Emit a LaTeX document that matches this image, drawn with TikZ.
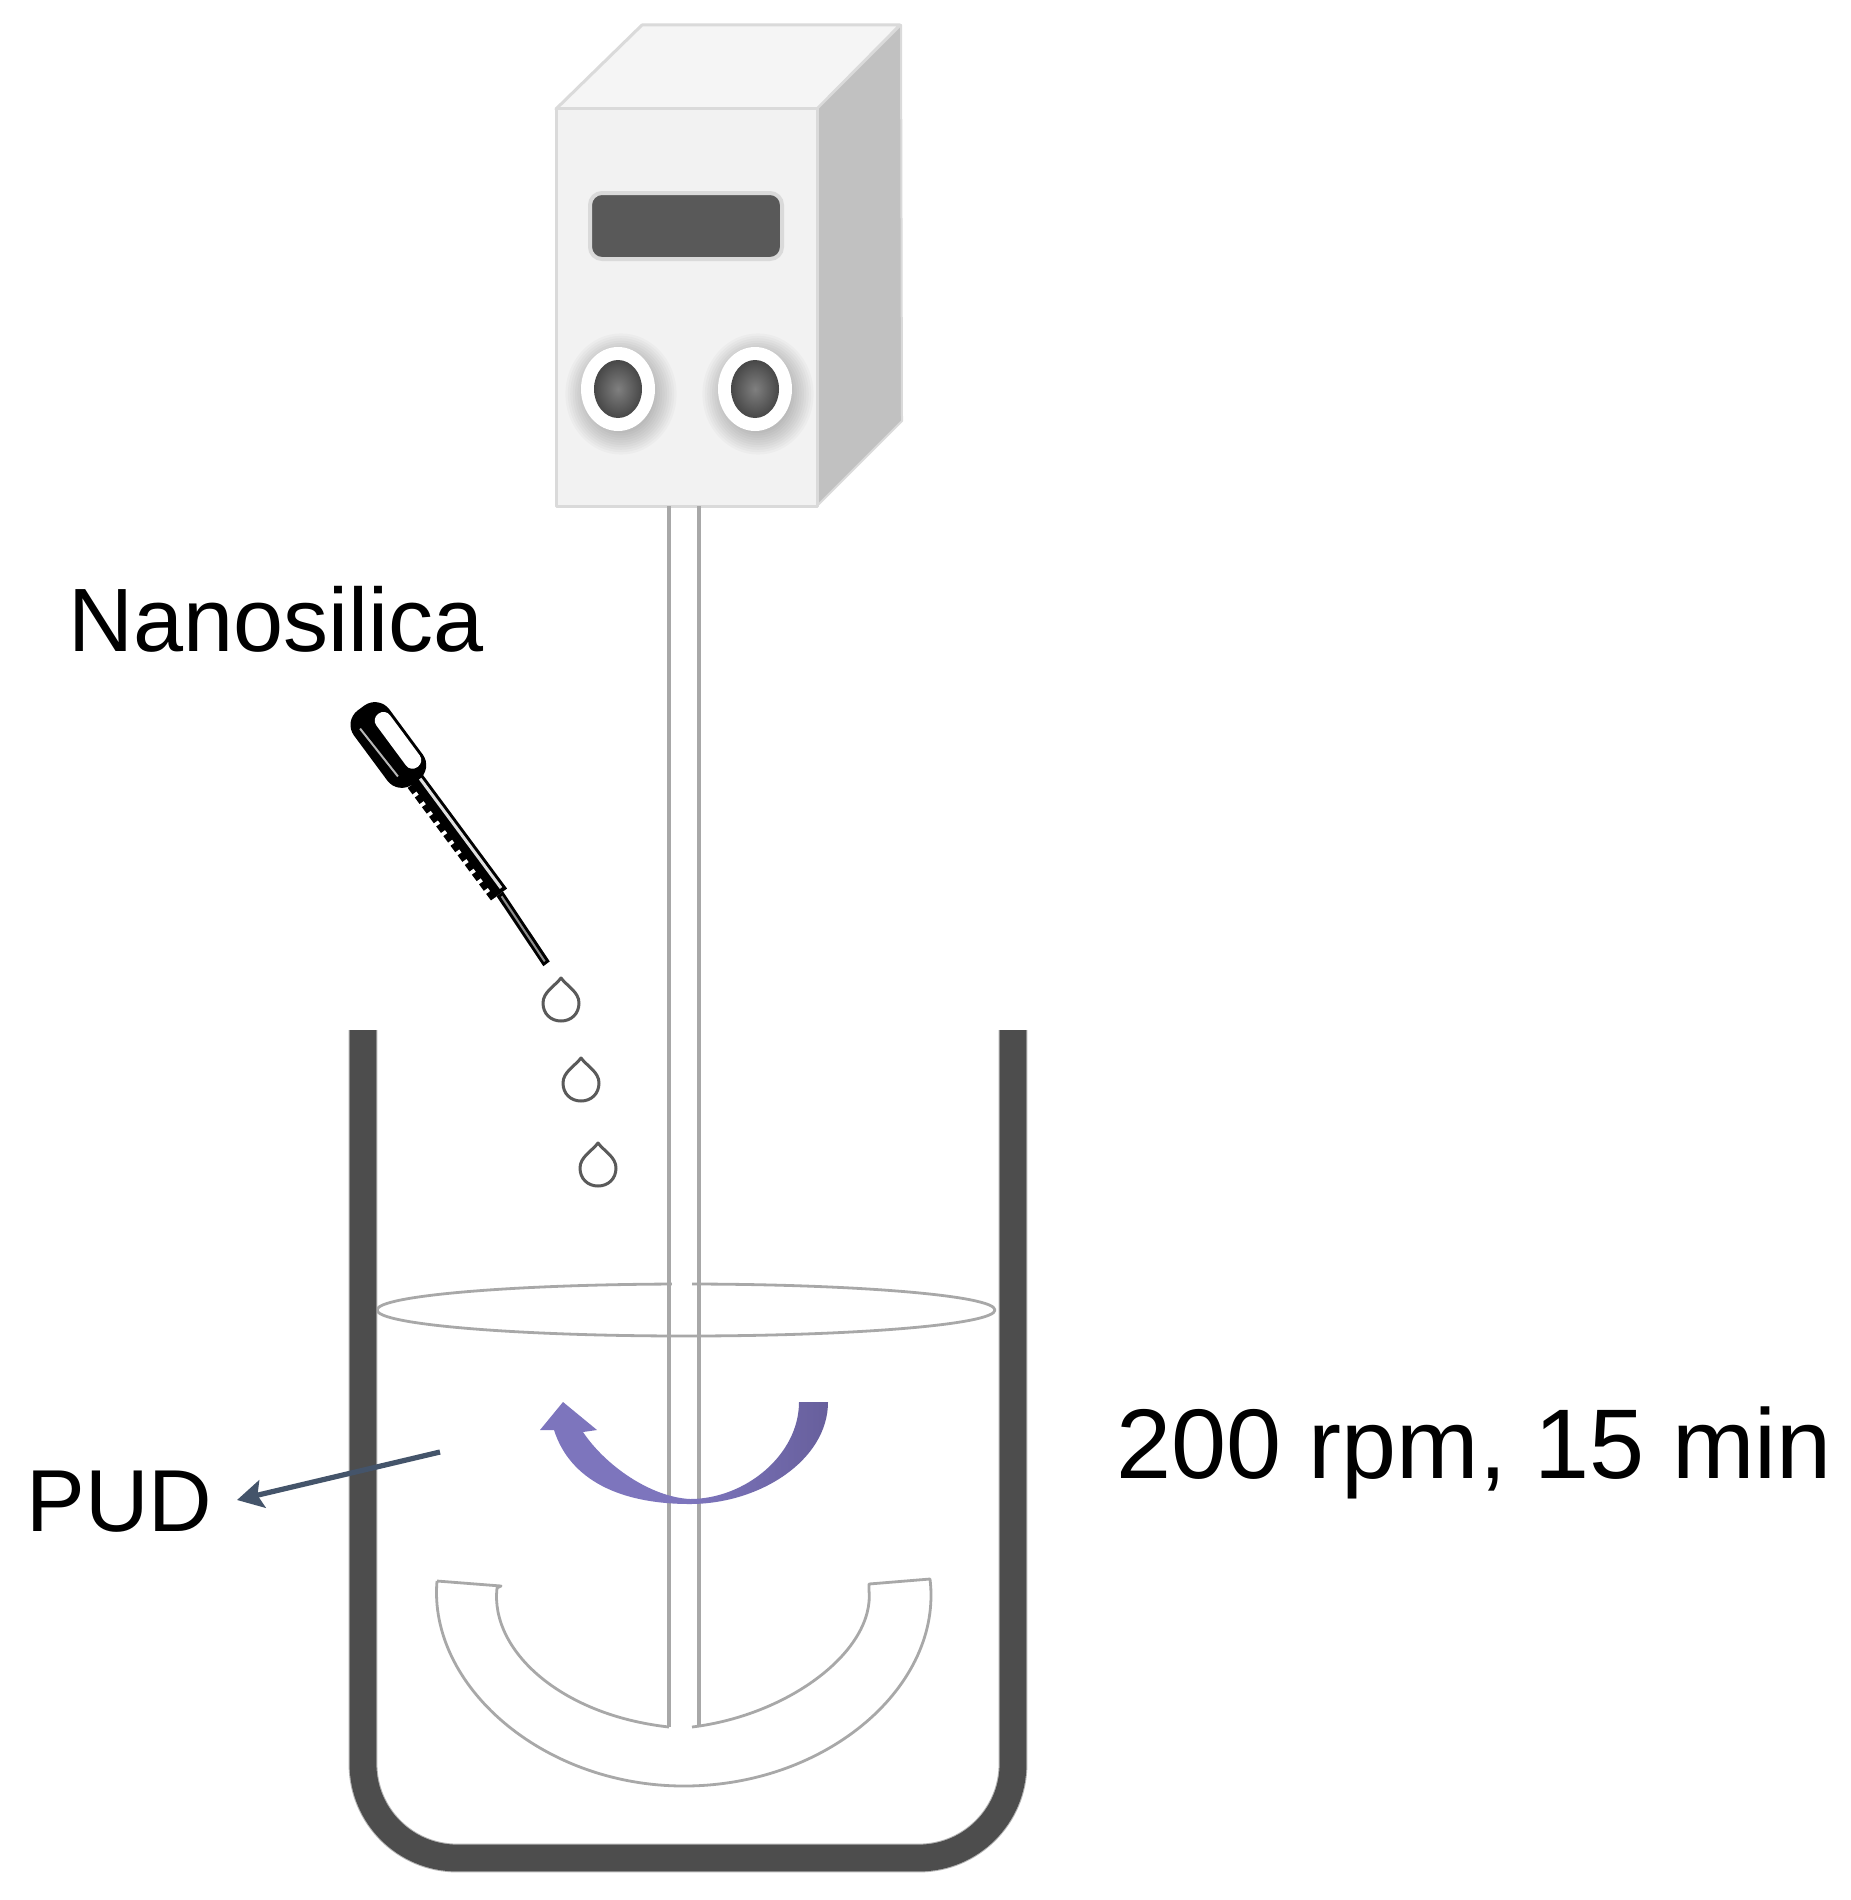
\documentclass[tikz,border=0pt]{standalone}
\usepackage{fontspec}
\setmainfont{Liberation Sans}
\usetikzlibrary{arrows.meta}
\definecolor{boxfront}{HTML}{F2F2F2}
\definecolor{boxtop}{HTML}{F5F5F5}
\definecolor{boxside}{HTML}{C1C1C1}
\definecolor{boxedge}{HTML}{DADADA}
\definecolor{screenfill}{HTML}{595959}
\definecolor{beakerc}{HTML}{4D4D4D}
\definecolor{beakeredge}{HTML}{B4B4B4}
\definecolor{linec}{HTML}{A8A8A8}
\definecolor{purplea}{HTML}{7D75BD}
\definecolor{purpleb}{HTML}{675F9C}
\definecolor{pudarrow}{HTML}{44546A}
\definecolor{dropc}{HTML}{5A5A5A}
\tikzset{
  label text/.style={anchor=base west,inner sep=0pt,text=black},
  thinline/.style={draw=linec,line width=1.4pt,line join=round},
  shaftline/.style={draw=linec,line width=2.4pt},
  boxface/.style={draw=boxedge,line width=1.5pt,line join=round},
  halo/.style={fill=black,opacity=0.022},
  knobring/.style={fill=white},
  knobcore/.style={inner color=black!50,outer color=black!72},
  dropletline/.style={draw=dropc,line width=1.5pt,line join=round}
}
\begin{document}
\begin{tikzpicture}[x=0.5pt,y=-0.5pt]
\useasboundingbox (0,0) rectangle (1851,1900);
\fill[white] (0,0) rectangle (1851,1900);

% controller box
\path[boxface,fill=boxtop] (556,109) -- (642,25) -- (900,25) -- (817,109) -- cycle;
\path[fill=boxside,draw=boxedge,line width=1pt,line join=round] (817,109) -- (901,25) -- (902,421) -- (817,506) -- cycle;
\path[boxface,fill=boxfront] (556,109) rectangle (817,506);
\draw[boxedge,line width=2pt,fill=screenfill,rounded corners=6pt] (590,193) rectangle (782,259);

% knobs
\foreach \kx in {618,755}{
  \foreach \r in {0,1,...,9}{
    \fill[halo] (\kx+3,394) ellipse [x radius={34+2.4*\r},y radius={39+2.4*\r}];
  }
  \fill[knobring] (\kx,389) ellipse [x radius=37,y radius=42];
  \shade[knobcore] (\kx,389) ellipse [x radius=24,y radius=29];
}

% shaft
\coordinate (shaftLT) at (669,506);
\coordinate (shaftRT) at (699,506);
\coordinate (shaftLB) at (669,1727);
\coordinate (shaftRB) at (699,1727);

% liquid surface
\draw[thinline] (686,1310) ellipse [x radius=309,y radius=26];
\fill[white] (672,1275) rectangle (692,1295);
\draw[shaftline] (shaftLT) -- (shaftLB);
\draw[shaftline] (shaftRT) -- (shaftRB);

% impeller
\draw[thinline] (437,1581) -- (501,1586) -- (497,1588)
  .. controls (490,1650) and (560,1715) .. (669,1727);
\draw[thinline] (437,1581) .. controls (428,1685) and (542,1786) .. (684,1786)
  .. controls (828,1786) and (943,1685) .. (930,1579) -- (869,1584) -- (869,1590)
  .. controls (875,1650) and (790,1715) .. (692,1727);

% rotation arrow
\fill[purplea] (690,1504) .. controls (620,1504) and (570,1480) .. (554,1430)
  -- (540,1430) -- (563,1402) -- (597,1430) -- (583,1432)
  .. controls (605,1465) and (650,1497) .. (690,1499) -- cycle;
\shade[left color=purplea,right color=purpleb] (690,1504)
  .. controls (760,1504) and (828,1460) .. (828,1402) -- (799,1402)
  .. controls (799,1455) and (745,1499) .. (690,1499) -- cycle;

% beaker
\draw[beakeredge,line width=14.4pt,rounded corners=47pt] (363,1030) -- (363,1858) -- (1013,1858) -- (1013,1030);
\draw[beakerc,line width=13.4pt,rounded corners=47pt] (363,1030) -- (363,1858) -- (1013,1858) -- (1013,1030);

% pipette
\begin{scope}[shift={(361,708)},rotate=-53.5,x=0.5pt,y=0.5pt]
  \fill[black,rounded corners=9pt] (0,-22) rectangle (92,22);
  \fill[white,rounded corners=4pt] (15,2) rectangle (81,19);
  \draw[black!28,line width=1pt] (16,-13) -- (77,-11);
  \fill[black] (88,-5) rectangle (232,10);
  \fill[black!12] (92,4) rectangle (228,7);
  \foreach \u in {92,104,...,224}{
    \fill[black] (\u,-10) rectangle (\u+8,-4);
  }
  \fill[black] (232,-3) -- (232,5) -- (316,1) -- (316,-7) -- cycle;
  \fill[black!45] (235,0) -- (235,2) -- (313,-2) -- (313,-4) -- cycle;
\end{scope}

% droplets
\foreach \dx/\dy in {561/1002,581/1082,598/1167}{
  \draw[dropletline] (\dx,\dy-24) .. controls (\dx+6,\dy-16) and (\dx+18,\dy-10) .. (\dx+18,\dy+1)
    .. controls (\dx+18,\dy+12) and (\dx+10,\dy+19) .. (\dx,\dy+19)
    .. controls (\dx-10,\dy+19) and (\dx-18,\dy+12) .. (\dx-18,\dy+1)
    .. controls (\dx-18,\dy-10) and (\dx-6,\dy-16) .. (\dx,\dy-24) -- cycle;
}

% labels
\node[label text,font=\fontsize{45}{48}\selectfont] (nano) at (68,651) {Nanosilica};
\node[label text,font=\fontsize{49.5}{52}\selectfont] (speed) at (1116,1478) {200 rpm, 15 min};
\node[label text,font=\fontsize{44}{46}\selectfont] (pud) at (26,1531) {PUD};

% PUD arrow
\coordinate (pudS) at (440,1452);
\coordinate (pudE) at (237,1500);
\draw[pudarrow,line width=2.6pt,-{Stealth[length=13pt,width=14pt,inset=2.5pt]}] (pudS) -- (pudE);
\end{tikzpicture}
\end{document}
